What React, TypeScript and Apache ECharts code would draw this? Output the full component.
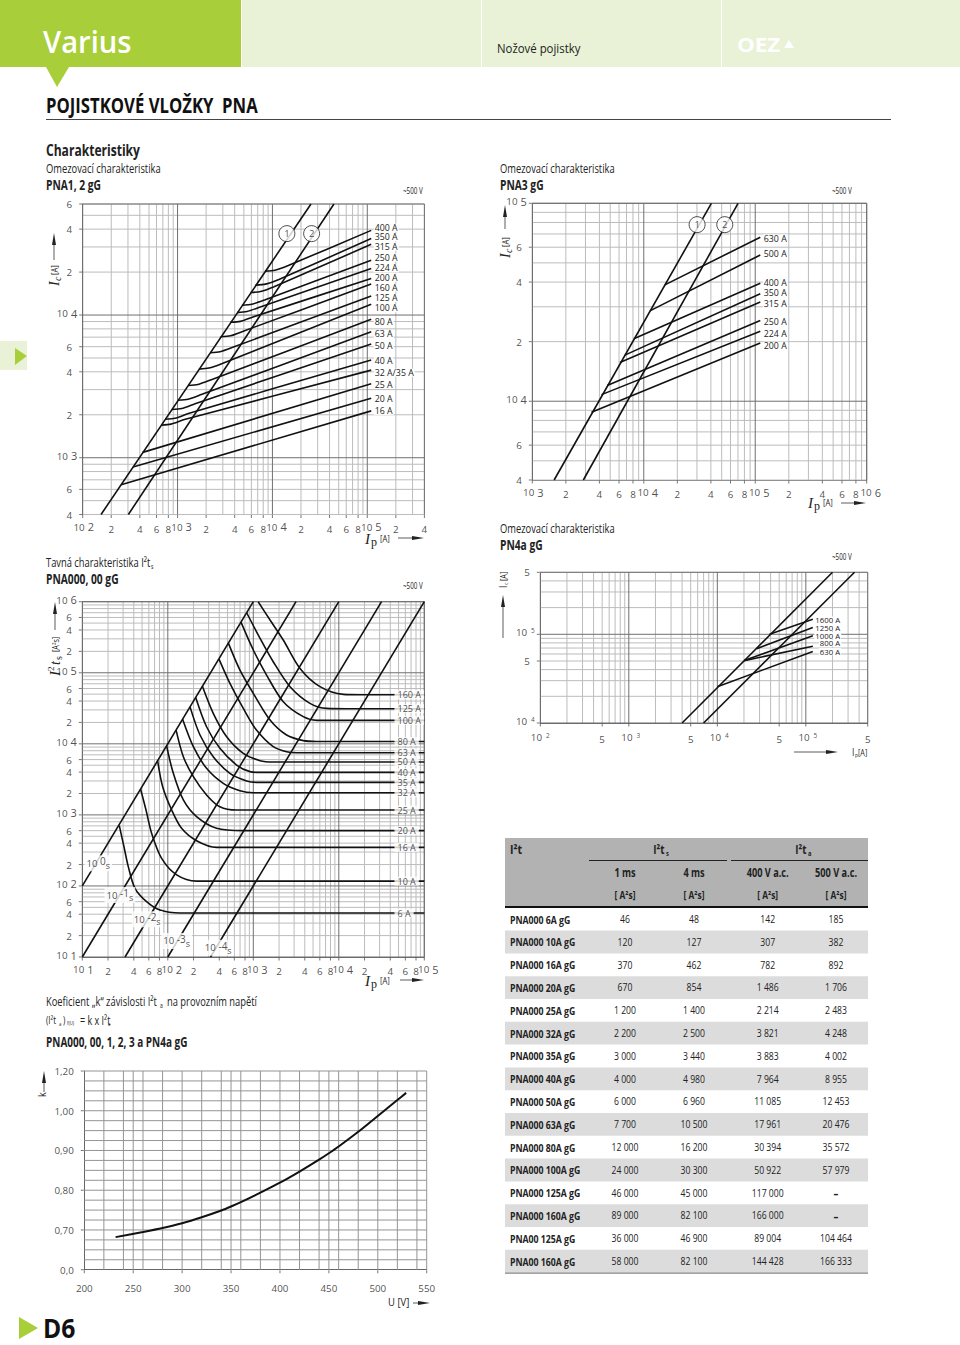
import React, { useEffect, useRef } from "react";
import * as echarts from "echarts";

type Pt = [number, number];
type Tick = [number, string];

// ---------- PNA1, 2 gG ----------
const pna12Envelope1: Pt[] = [[156, 400], [25500, 60000]];
const pna12Envelope2: Pt[] = [[303, 400], [44500, 60000]];
const pna12Names = ["400 A", "350 A", "315 A", "250 A", "224 A", "200 A", "160 A", "125 A", "100 A", "80 A", "63 A", "50 A", "40 A", "32 A/35 A", "25 A", "20 A", "16 A"];
const pna12Curves: Pt[][] = [
  [[8340, 20300], [10630, 20600], [14700, 22250], [110000, 39200]],
  [[6650, 16200], [8480, 16460], [11700, 17750], [110000, 34400]],
  [[5890, 14400], [7510, 14630], [10400, 15800], [110000, 31300]],
  [[4770, 11700], [6080, 11900], [8400, 12800], [110000, 24200]],
  [[4230, 10400], [5390, 10570], [7450, 11400], [110000, 21200]],
  [[3600, 8890], [4590, 9030], [6340, 9740], [110000, 18000]],
  [[2840, 7050], [3620, 7160], [5000, 7730], [110000, 16500]],
  [[2200, 5440], [2800, 5530], [3880, 5960], [110000, 13600]],
  [[1680, 4180], [2140, 4250], [2960, 4580], [110000, 11900]],
  [[1290, 3210], [1640, 3260], [2270, 3520], [110000, 9330]],
  [[1010, 2530], [1290, 2570], [1780, 2770], [110000, 7640]],
  [[867, 2180], [1105, 2210], [1530, 2390], [110000, 6270]],
  [[738, 1860], [941, 1890], [1300, 2040], [110000, 4840]],
  [[669, 1690], [853, 1720], [1180, 1850], [110000, 4110]],
  [[429, 1090], [110000, 3300]],
  [[339, 861], [110000, 2610]],
  [[254, 647], [110000, 2130]],
];
const pna12XTicks: Tick[] = [[100, "10^2"], [200, "2"], [400, "4"], [600, "6"], [800, "8"], [1000, "10^3"], [2000, "2"], [4000, "4"], [6000, "6"], [8000, "8"], [10000, "10^4"], [20000, "2"], [40000, "4"], [60000, "6"], [80000, "8"], [100000, "10^5"], [200000, "2"], [400000, "4"]];
const pna12YTicks: Tick[] = [[60000, "6"], [40000, "4"], [20000, "2"], [10000, "10^4"], [6000, "6"], [4000, "4"], [2000, "2"], [1000, "10^3"], [600, "6"], [400, "4"]];
const pna12Circles: [number, number, string][] = [[14200, 37200, "1"], [25900, 37200, "2"]];

// ---------- PNA3 gG ----------
const pna3Envelope1: Pt[] = [[1570, 4000], [40400, 100000]];
const pna3Envelope2: Pt[] = [[2870, 4000], [70100, 100000]];
const pna3Names = ["630 A", "500 A", "400 A", "350 A", "315 A", "250 A", "224 A", "200 A"];
const pna3Curves: Pt[][] = [
  [[15450, 38700], [111000, 67400]],
  [[11350, 28600], [111000, 54800]],
  [[8150, 20700], [111000, 39500]],
  [[6770, 17100], [111000, 34900]],
  [[6110, 15700], [111000, 31700]],
  [[4700, 12000], [111000, 25600]],
  [[4180, 10800], [111000, 22600]],
  [[3400, 8800], [111000, 19700]],
];
const pna3XTicks: Tick[] = [[1000, "10^3"], [2000, "2"], [4000, "4"], [6000, "6"], [8000, "8"], [10000, "10^4"], [20000, "2"], [40000, "4"], [60000, "6"], [80000, "8"], [100000, "10^5"], [200000, "2"], [400000, "4"], [600000, "6"], [800000, "8"], [1000000, "10^6"]];
const pna3YTicks: Tick[] = [[100000, "10^5"], [60000, "6"], [40000, "4"], [20000, "2"], [10000, "10^4"], [6000, "6"], [4000, "4"]];
const pna3Circles: [number, number, string][] = [[30100, 78000, "1"], [53300, 78000, "2"]];

// ---------- PNA000, 00 gG : I2t ----------
const i2tTimeLines: Pt[][] = [
  [[10, 100], [1000, 1000000]],
  [[10, 10], [3162, 1000000]],
  [[31.6, 10], [10000, 1000000]],
  [[100, 10], [31623, 1000000]],
  [[316, 10], [100000, 1000000]],
];
const i2tNames = ["6 A", "10 A", "16 A", "20 A", "25 A", "32 A", "35 A", "40 A", "50 A", "63 A", "80 A", "100 A", "125 A", "160 A"];
const i2tCurves: Pt[][] = [
  [[27.1, 705], [30.7, 357], [34.5, 187], [41.3, 92.5], [56.5, 60.1], [80.9, 45.8], [139, 41.6], [100000, 41.6]],
  [[48.1, 2300], [55.6, 1170], [64.7, 550], [84.7, 244], [127, 143], [217, 117], [100000, 117]],
  [[76, 5780], [87.1, 2490], [111, 1170], [145, 647], [217, 433], [372, 349], [100000, 349]],
  [[96.8, 9370], [116, 3840], [152, 1620], [217, 944], [372, 647], [764, 600], [100000, 600]],
  [[125, 15600], [152, 6590], [199, 3450], [284, 1910], [407, 1300], [638, 1170], [100000, 1170]],
  [[149, 22200], [199, 9120], [284, 4520], [445, 2780], [698, 2190], [1000, 2050], [100000, 2050]],
  [[182, 33100], [238, 13300], [340, 6590], [533, 3840], [836, 3000], [1090, 2870], [100000, 2870]],
  [[212, 44900], [284, 17400], [407, 8630], [638, 5030], [914, 4060], [1200, 3960], [100000, 3960]],
  [[254, 64500], [340, 26900], [488, 12600], [764, 7350], [1200, 5790], [1710, 5550], [100000, 5550]],
  [[396, 157000], [533, 71000], [764, 31500], [1090, 15600], [1710, 9120], [2450, 7740], [3210, 7500], [100000, 7500]],
  [[511, 261000], [698, 109000], [1000, 51300], [1570, 21600], [2450, 13300], [3840, 11100], [5510, 10800], [100000, 10800]],
  [[718, 515000], [1000, 209000], [1430, 92900], [2240, 39200], [3840, 24100], [5510, 21400], [100000, 21400]],
  [[836, 699000], [1200, 305000], [1710, 143000], [2690, 63700], [4600, 37100], [7210, 31500], [12400, 31200], [100000, 31200]],
  [[1140, 1000000], [1570, 552000], [2240, 289000], [3520, 115000], [6030, 63700], [11300, 49700], [17700, 49100], [100000, 49100]],
];
const i2tLabelX = 44200;
const i2tTimeLabels: [number, number, string, string][] = [[15.4, 208, "0", "s"], [27.5, 74.5, "-1", "s"], [57.5, 33.9, "-2", "s"], [127, 16.8, "-3", "s"], [389, 13.5, "-4", "s"]];
const i2tXTicks: Tick[] = [[10, "10^1"], [20, "2"], [40, "4"], [60, "6"], [80, "8"], [100, "10^2"], [200, "2"], [400, "4"], [600, "6"], [800, "8"], [1000, "10^3"], [2000, "2"], [4000, "4"], [6000, "6"], [8000, "8"], [10000, "10^4"], [20000, "2"], [40000, "4"], [60000, "6"], [80000, "8"], [100000, "10^5"]];
const i2tYTicks: Tick[] = [[1000000, "10^6"], [600000, "6"], [400000, "4"], [200000, "2"], [100000, "10^5"], [60000, "6"], [40000, "4"], [20000, "2"], [10000, "10^4"], [6000, "6"], [4000, "4"], [2000, "2"], [1000, "10^3"], [600, "6"], [400, "4"], [200, "2"], [100, "10^2"], [60, "6"], [40, "4"], [20, "2"], [10, "10^1"]];

// ---------- PN4a gG ----------
const pn4Envelope1: Pt[] = [[4000, 10000], [200000, 500000]];
const pn4Envelope2: Pt[] = [[7000, 10000], [355000, 500000]];
const pn4Names = ["1600 A", "1250 A", "1000 A", "800 A", "630 A"];
const pn4Curves: Pt[][] = [
  [[38900, 100000], [120000, 147600]],
  [[27900, 68900], [120000, 119000]],
  [[20100, 50500], [120000, 96600]],
  [[20100, 50500], [120000, 73300]],
  [[10000, 25700], [120000, 63800]],
];
const pn4XTicks: Tick[] = [[100, "10^2"], [500, "5"], [1000, "10^3"], [5000, "5"], [10000, "10^4"], [50000, "5"], [100000, "10^5"], [500000, "5"]];
const pn4YTicks: Tick[] = [[500000, "5"], [100000, "10^5"], [50000, "5"], [10000, "10^4"]];

// ---------- k factor ----------
const kVoltage = [232, 260, 280, 300, 320, 340, 350, 360, 380, 400, 420, 440, 450, 460, 480, 500, 520, 529];
const kValues = [0.682, 0.695, 0.705, 0.717, 0.732, 0.749, 0.759, 0.77, 0.794, 0.819, 0.847, 0.877, 0.893, 0.91, 0.947, 0.987, 1.027, 1.045];
const kXTicks: Tick[] = [[200, "200"], [250, "250"], [300, "300"], [350, "350"], [400, "400"], [450, "450"], [500, "500"], [550, "550"]];
const kYTicks: Tick[] = [[1.1, "1,20"], [1.0, "1,00"], [0.9, "0,90"], [0.8, "0,80"], [0.7, "0,70"], [0.6, "0,0"]];
const kXGrid = [220, 240, 250, 260, 280, 300, 320, 340, 350, 360, 380, 400, 420, 440, 450, 460, 480, 500, 520, 540, 550];
const kYGrid = [0.625, 0.65, 0.675, 0.7, 0.725, 0.75, 0.775, 0.8, 0.825, 0.85, 0.875, 0.9, 0.925, 0.95, 0.975, 1.0, 1.025, 1.05, 1.075, 1.1];

// ---------- table ----------
const tableNames = ["PNA000 6A gG", "PNA000 10A gG", "PNA000 16A gG", "PNA000 20A gG", "PNA000 25A gG", "PNA000 32A gG", "PNA000 35A gG", "PNA000 40A gG", "PNA000 50A gG", "PNA000 63A gG", "PNA000 80A gG", "PNA000 100A gG", "PNA000 125A gG", "PNA000 160A gG", "PNA00 125A gG", "PNA00 160A gG"];
const table1ms = ["46", "120", "370", "670", "1 200", "2 200", "3 000", "4 000", "6 000", "7 700", "12 000", "24 000", "46 000", "89 000", "36 000", "58 000"];
const table4ms = ["48", "127", "462", "854", "1 400", "2 500", "3 440", "4 980", "6 960", "10 500", "16 200", "30 300", "45 000", "82 100", "46 900", "82 100"];
const table400V = ["142", "307", "782", "1 486", "2 214", "3 821", "3 883", "7 964", "11 085", "17 961", "30 394", "50 922", "117 000", "166 000", "89 004", "144 428"];
const table500V = ["185", "382", "892", "1 706", "2 483", "4 248", "4 002", "8 955", "12 453", "20 476", "35 572", "57 979", "–", "–", "104 464", "166 333"];

// ---------- layout (pixels) ----------
const SANS = '"Open Sans"';
const SERIF = '"Liberation Serif"';
const GRIDS = [
  { left: 82.7, top: 204, width: 341.7, height: 310.5 },
  { left: 532.3, top: 203.3, width: 334.4, height: 276.7 },
  { left: 82.3, top: 601.7, width: 342, height: 355.3 },
  { left: 540.3, top: 572.3, width: 327.4, height: 150.7 },
  { left: 84.3, top: 1071, width: 342.4, height: 198.7 },
];
const EXT = [
  { x: [100, 400000], y: [400, 60000] },
  { x: [1000, 1000000], y: [4000, 100000] },
  { x: [10, 100000], y: [10, 1000000] },
  { x: [100, 500000], y: [10000, 500000] },
  { x: [200, 550], y: [0.6, 1.1] },
];
const pna12LabelDy = [-2.7, -1, 2.3, -2.7, 0, -1, 3.7, 2, 4, 2.3, 2.3, 2.3, 1.3, 2.7, 1, 0.7, 0];
const pna3LabelDy = [1.3, -0.7, 0.3, -0.3, 1.7, 2, 2.7, 2.7];
const pn4LabelDy = [0.7, 0, 0, -3, 0];
const pn4LabelDist = [1.5, 1.5, 1.5, 6, 6];

function decadeGrid(lo: number, hi: number) {
  const minor: number[] = [];
  const major: number[] = [];
  for (let e = 0; e < 7; e++) {
    for (let m = 1; m < 10; m++) {
      const v = m * Math.pow(10, e);
      if (v < lo || v > hi) continue;
      if (m === 1) major.push(v);
      else minor.push(v);
    }
  }
  return { minor, major };
}

function gridPath(i: number, xs: number[], ys: number[]) {
  const out: any[] = [];
  const [x0, x1] = EXT[i].x;
  const [y0, y1] = EXT[i].y;
  xs.forEach((x) => out.push([x, y0], [x, y1], [null, null]));
  ys.forEach((y) => out.push([x0, y], [x1, y], [null, null]));
  return out;
}

function gridSeries(i: number, data: any[], color: string, width = 1) {
  return {
    type: "line", xAxisIndex: i, yAxisIndex: i, data, symbol: "none", showSymbol: false, silent: true,
    clip: false, connectNulls: false, z: 1, lineStyle: { color, width }, emphasis: { disabled: true },
  };
}

function curveSeries(i: number, name: string | null, data: Pt[], opt: any = {}) {
  return {
    type: "line", name: name ?? undefined, xAxisIndex: i, yAxisIndex: i, data, symbol: "none", showSymbol: false,
    silent: true, smooth: opt.smooth ?? 0, z: 3,
    lineStyle: { color: "#111", width: opt.width ?? 1.6 },
    endLabel: name
      ? {
          show: true, formatter: name, color: "#222", fontFamily: SANS, fontSize: opt.fs ?? 8.8, lineHeight: opt.lh ?? 8, distance: opt.dist ?? 2,
          offset: [0, opt.dy ?? 0], backgroundColor: "#fff", padding: [0, 1],
        }
      : undefined,
  };
}

function tickText(t: string) {
  if (t.includes("^")) {
    const [b, s] = t.split("^");
    return `{b|${b}}{s|${s}}`;
  }
  return `{b|${t}}`;
}

function tickRich(small: boolean) {
  return {
    b: { fontFamily: SANS, fontSize: 9.8, color: "#222", lineHeight: 11, verticalAlign: "bottom" },
    s: small
      ? { fontFamily: SANS, fontSize: 6.5, color: "#222", lineHeight: 9, verticalAlign: "top", padding: [0, 0, 5, 4] }
      : { fontFamily: SANS, fontSize: 11, color: "#222", lineHeight: 11, verticalAlign: "top", padding: [0, 0, 5, 3] },
  };
}

function xTicks(i: number, ticks: Tick[], small = false, dist = 5, first = 1, later = 4) {
  const y = EXT[i].y[0];
  return {
    type: "scatter", xAxisIndex: i, yAxisIndex: i, silent: true, clip: false, z: 6,
    symbol: "rect", symbolSize: [1, 3], symbolOffset: [0, 2], itemStyle: { color: "#555" },
    data: ticks.map(([x, t], idx) => ({
      value: [x, y], t,
      label: { offset: [t.includes("^") ? (idx === 0 ? first : later) : 0, t.includes("^") ? -2 : 0] },
    })),
    label: { show: true, position: "bottom", distance: dist, formatter: (p: any) => tickText(p.data.t), rich: tickRich(small) },
  };
}

function yTicks(i: number, ticks: Tick[], small = false) {
  const x = EXT[i].x[0];
  return {
    type: "scatter", xAxisIndex: i, yAxisIndex: i, silent: true, clip: false, z: 6,
    symbol: "rect", symbolSize: [3, 1], symbolOffset: [-2, 0], itemStyle: { color: "#555" },
    data: ticks.map(([v, t]) => ({
      value: [x, v], t,
      label: { distance: t.includes("^") ? 2 : 7, offset: [0, t.includes("^") ? -2 : 0] },
    })),
    label: { show: true, position: "left", formatter: (p: any) => tickText(p.data.t), rich: tickRich(small) },
  };
}

function circles(i: number, pts: [number, number, string][], size: number) {
  return {
    type: "scatter", xAxisIndex: i, yAxisIndex: i, silent: true, clip: false, z: 8,
    symbol: "circle", symbolSize: size, itemStyle: { color: "#fff", borderColor: "#222", borderWidth: 1 },
    data: pts.map(([x, y, t]) => ({ value: [x, y], t })),
    label: { show: true, position: "inside", color: "#222", fontFamily: SANS, fontSize: 9.5, formatter: (p: any) => p.data.t },
  };
}

function buildGraphic() {
  const els: any[] = [];
  const T = (text: string, x: number, y: number, size: number, o: any = {}) =>
    els.push({
      type: "text", x, y, scaleX: o.sx ?? 0.8, scaleY: 1, rotation: o.rot ?? 0, z: o.z ?? 20,
      style: {
        text, fill: o.fill ?? "#222",
        font: `${o.italic ? "italic " : ""}${o.weight ? o.weight + " " : o.bold ? "bold " : ""}${size}px ${o.family ?? SANS}`,
        align: o.align ?? "left", verticalAlign: "middle", textAlign: o.align ?? "left", textVerticalAlign: "middle",
      },
    });
  const R = (x: number, y: number, w: number, h: number, fill: string, z = 0) =>
    els.push({ type: "rect", x, y, z, shape: { x: 0, y: 0, width: w, height: h }, style: { fill } });
  const P = (points: number[][], fill: string) => els.push({ type: "polygon", z: 20, shape: { points }, style: { fill } });
  const L = (x1: number, y1: number, x2: number, y2: number, stroke = "#222", lineWidth = 1) =>
    els.push({ type: "line", z: 20, shape: { x1, y1, x2, y2 }, style: { stroke, lineWidth } });
  const arrowH = (x1: number, x2: number, y: number) => {
    L(x1, y, x2 - 8, y, "#333", 0.8);
    P([[x2 - 12, y - 2], [x2, y], [x2 - 12, y + 2]], "#222");
  };
  const arrowV = (x: number, y1: number, y2: number) => {
    L(x, y1, x, y2 + 8, "#333", 0.8);
    P([[x - 2, y2 + 12], [x, y2], [x + 2, y2 + 12]], "#222");
  };

  // header
  R(0, 0, 241, 67, "#A8CF3A");
  R(242, 0, 239, 67, "#E9F2D6");
  R(482, 0, 239, 67, "#E9F2D6");
  R(722, 0, 238, 67, "#E9F2D6");
  P([[46, 67], [69, 67], [57, 87]], "#A8CF3A");
  T("Varius", 43, 41, 31, { fill: "#fff", sx: 0.94, weight: 600 });
  T("Nožové pojistky", 497, 48, 12, { sx: 0.95 });
  T("OEZ", 737, 44, 20, { bold: true, fill: "#fff", sx: 1.12 });
  P([[784, 48], [789, 40], [794, 48]], "#fff");
  T("POJISTKOVÉ VLOŽKY  PNA", 46, 105, 22, { bold: true, sx: 0.76, fill: "#111" });
  L(46, 119.5, 891, 119.5, "#444", 1);

  // side tab and page mark
  R(0, 341, 27, 29, "#E9F2D6");
  P([[15, 348], [27, 356], [15, 365]], "#A8CF3A");
  P([[19, 1317], [38, 1328], [19, 1339]], "#A8CF3A");
  T("D6", 43, 1328, 26, { bold: true, sx: 0.95, fill: "#111" });

  // section titles
  const tt = { sx: 0.72 };
  const tb = { bold: true, sx: 0.76 };
  T("Charakteristiky", 46, 150, 15.5, { bold: true, sx: 0.78 });
  T("Omezovací charakteristika", 46, 168, 13, tt);
  T("PNA1, 2 gG", 46, 185, 13.5, tb);
  T("~500 V", 403, 191, 8.5, { sx: 0.74 });
  T("Omezovací charakteristika", 500, 168, 13, tt);
  T("PNA3 gG", 500, 185, 13.5, tb);
  T("~500 V", 832, 191, 8.5, { sx: 0.74 });
  T("Tavná charakteristika I²t", 46, 562, 13, tt);
  T("s", 151, 566, 7, tt);
  T("PNA000, 00 gG", 46, 579, 13.5, tb);
  T("~500 V", 403, 586, 8.5, { sx: 0.74 });
  T("Omezovací charakteristika", 500, 528, 13, tt);
  T("PN4a gG", 500, 545, 13.5, tb);
  T("~500 V", 832, 557, 8.5, { sx: 0.74 });
  T("Koeficient „k“ závislosti I²t", 46, 1001, 13, tt);
  T("a", 160, 1005, 7, tt);
  T("na provozním napětí", 167, 1001, 13, tt);
  T("(I²t", 46, 1020, 11, tt);
  T("a", 59, 1024, 6, tt);
  T(")", 63, 1020, 11, tt);
  T("f(U)", 67, 1023, 6, tt);
  T("= k x I²t", 80, 1020, 12.5, tt);
  T("a", 108, 1024, 6, tt);
  T("PNA000, 00, 1, 2, 3 a PN4a gG", 46, 1041, 13.5, { bold: true, sx: 0.74 });

  // axis titles
  const rot = Math.PI / 2;
  const vTitle = (x: number, y: number, sub: string) => {
    T("I", x, y, 14, { family: SERIF, italic: true, rot, sx: 1 });
    T(sub, x + 3, y - 5, 10, { family: SERIF, italic: true, rot, sx: 1 });
    T("[A]", x, y - 11, 9, { rot, sx: 0.85 });
  };
  const hTitle = (x: number, y: number) => {
    T("I", x, y, 15, { family: SERIF, italic: true, sx: 1 });
    T("p", x + 6, y + 3, 12, { family: SERIF, sx: 1 });
    T("[A]", x + 15, y - 1, 9, { sx: 0.85 });
  };
  vTitle(54, 286, "c");
  arrowV(54, 260, 233);
  hTitle(365, 539);
  arrowH(398, 424, 538);
  vTitle(505, 258, "c");
  arrowV(505, 229, 205);
  hTitle(808, 503);
  arrowH(841, 866, 503);
  T("I", 55, 676, 15, { family: SERIF, italic: true, rot, sx: 1 });
  T("2", 51, 671, 9, { family: SERIF, rot, sx: 1 });
  T("t", 55, 665, 14, { family: SERIF, italic: true, rot, sx: 1 });
  T("s", 58, 660, 10, { family: SERIF, rot, sx: 1 });
  T("[A²s]", 56, 652, 8.5, { rot, sx: 0.85 });
  arrowV(55, 630, 602);
  hTitle(365, 981);
  arrowH(400, 424, 980);
  T("I", 503, 588, 10, { rot, sx: 0.85 });
  T("c", 506, 585, 6, { rot, sx: 0.85 });
  T("[A]", 503, 581, 9, { rot, sx: 0.8 });
  arrowV(503, 638, 595);
  arrowH(794, 838, 752);
  T("I", 852, 752, 10, { sx: 0.85 });
  T("p", 855, 755, 6, { sx: 0.85 });
  T("[A]", 858, 752, 9, { sx: 0.8 });
  T("k", 42, 1097, 10, { rot, sx: 0.9 });
  arrowV(44, 1092, 1071);
  T("U [V]", 388, 1302, 10, { sx: 0.95 });
  arrowH(413, 430, 1303);

  // table
  const TX = 505, TW = 363, TOP = 907.8, ROW = 22.8;
  R(TX, 838, TW, 69, "#B2B2B2");
  L(589, 860.5, 727, 860.5, "#222", 1);
  L(731, 860.5, 868, 860.5, "#222", 1);
  L(TX, 907, TX + TW, 907, "#111", 2);
  const cols = [625, 694, 767.7, 836];
  const hb = { bold: true, sx: 0.8, align: "center" };
  T("I²t", 510, 849, 12.5, { bold: true, sx: 0.85 });
  T("I²t", 659, 849, 12, { bold: true, sx: 0.82, align: "center" });
  T("s", 666, 853, 7, { bold: true, sx: 0.82 });
  T("I²t", 801, 849, 12, { bold: true, sx: 0.82, align: "center" });
  T("a", 808, 853, 7, { bold: true, sx: 0.82 });
  ["1 ms", "4 ms", "400 V a.c.", "500 V a.c."].forEach((h, i) => T(h, cols[i], 873, 11.5, hb));
  cols.forEach((c) => T("[ A²s]", c, 895, 10.5, hb));
  tableNames.forEach((name, r) => {
    const y = TOP + r * ROW;
    if (r % 2 === 1) R(TX, y, TW, ROW, "#DCDCDC");
    T(name, 510, y + ROW / 2, 11.2, { bold: true, sx: 0.78 });
    [table1ms, table4ms, table400V, table500V].forEach((col, c) =>
      T(col[r], cols[c], y + ROW / 2, col[r] === "–" ? 12 : 10.8, { sx: 0.8, align: "center", bold: col[r] === "–" })
    );
  });
  L(TX, TOP + 16 * ROW + 0.5, TX + TW, TOP + 16 * ROW + 0.5, "#666", 1);
  return els;
}

function buildOption() {
  const series: any[] = [];
  [0, 1, 2, 3].forEach((i) => {
    const gx = decadeGrid(EXT[i].x[0], EXT[i].x[1]);
    const gy = decadeGrid(EXT[i].y[0], EXT[i].y[1]);
    series.push(gridSeries(i, gridPath(i, gx.minor, gy.minor), "#bcbcbc"));
    series.push(gridSeries(i, gridPath(i, [...gx.major, EXT[i].x[1]], [...gy.major, EXT[i].y[1]]), "#707070"));
  });
  series.push(gridSeries(4, gridPath(4, kXGrid, kYGrid), "#949494"));

  [pna12Envelope1, pna12Envelope2].forEach((d) => series.push(curveSeries(0, null, d)));
  pna12Curves.forEach((d, k) => series.push(curveSeries(0, pna12Names[k], d, { smooth: 0.25, dy: pna12LabelDy[k], dist: 2.5 })));
  series.push(xTicks(0, pna12XTicks), yTicks(0, pna12YTicks), circles(0, pna12Circles, 16));

  [pna3Envelope1, pna3Envelope2].forEach((d) => series.push(curveSeries(1, null, d)));
  pna3Curves.forEach((d, k) => series.push(curveSeries(1, pna3Names[k], d, { dy: pna3LabelDy[k], dist: 2.5 })));
  series.push(xTicks(1, pna3XTicks, false, 5, 1, 4), yTicks(1, pna3YTicks), circles(1, pna3Circles, 16));

  i2tTimeLines.forEach((d) => series.push(curveSeries(2, null, d)));
  i2tCurves.forEach((d) => series.push(curveSeries(2, null, d, { smooth: 0.3 })));
  series.push({
    type: "scatter", xAxisIndex: 2, yAxisIndex: 2, silent: true, clip: false, z: 9, symbolSize: 1, itemStyle: { color: "rgba(0,0,0,0)" },
    data: i2tCurves.map((c, k) => ({ value: [i2tLabelX, c[c.length - 1][1]], t: i2tNames[k] })),
    label: { show: true, position: "right", distance: 0, color: "#222", fontFamily: SANS, fontSize: 9, lineHeight: 9, backgroundColor: "#fff", padding: [0, 3], formatter: (p: any) => p.data.t },
  });
  series.push({
    type: "scatter", xAxisIndex: 2, yAxisIndex: 2, silent: true, clip: false, z: 9, symbolSize: 1, itemStyle: { color: "rgba(0,0,0,0)" },
    data: i2tTimeLabels.map(([x, y, e, u]) => ({ value: [x, y], e, u })),
    label: {
      show: true, position: "inside", backgroundColor: "#fff", padding: [1, 2],
      formatter: (p: any) => `{b|10}{s| ${p.data.e}}{u|${p.data.u}}`,
      rich: {
        b: { fontFamily: SANS, fontSize: 9.6, color: "#222", lineHeight: 14, verticalAlign: "middle" },
        s: { fontFamily: SANS, fontSize: 10, color: "#222", lineHeight: 10, verticalAlign: "top" },
        u: { fontFamily: SANS, fontSize: 9, color: "#222", lineHeight: 10, verticalAlign: "bottom" },
      },
    },
  });
  series.push(xTicks(2, i2tXTicks), yTicks(2, i2tYTicks));

  [pn4Envelope1, pn4Envelope2].forEach((d) => series.push(curveSeries(3, null, d)));
  pn4Curves.forEach((d, k) => series.push(curveSeries(3, pn4Names[k], d, { dy: pn4LabelDy[k], dist: pn4LabelDist[k], fs: 7.8, lh: 7 })));
  series.push(xTicks(3, pn4XTicks, true, 7, 0, 2), yTicks(3, pn4YTicks, true));

  series.push(curveSeries(4, null, kVoltage.map((u, n): Pt => [u, kValues[n]]), { smooth: 0.3, width: 2 }));
  series.push(xTicks(4, kXTicks, false, 9, 0, 0), yTicks(4, kYTicks));

  const axis = (i: number, key: "x" | "y", log: boolean, pos: string) => ({
    type: log ? "log" : "value", logBase: 10, gridIndex: i, min: EXT[i][key][0], max: EXT[i][key][1], position: pos,
    axisLine: { show: true, onZero: false, lineStyle: { color: "#666", width: 1 } },
    axisTick: { show: false }, axisLabel: { show: false }, splitLine: { show: false }, minorTick: { show: false },
  });

  return {
    animation: false,
    backgroundColor: "#fff",
    grid: GRIDS.map((g) => ({ ...g, show: false, containLabel: false })),
    xAxis: GRIDS.map((_, i) => axis(i, "x", i < 4, "bottom")),
    yAxis: GRIDS.map((_, i) => axis(i, "y", i < 4, "left")),
    series,
    graphic: { elements: buildGraphic() },
  };
}

export default function App() {
  const ref = useRef<HTMLDivElement>(null);
  useEffect(() => {
    if (!ref.current) return;
    const chart = echarts.init(ref.current, undefined, { renderer: "svg" });
    chart.setOption(buildOption() as any);
    return () => chart.dispose();
  }, []);
  return <div ref={ref} style={{ position: "absolute", left: 0, top: 0, width: 960, height: 1345 }} />;
}
